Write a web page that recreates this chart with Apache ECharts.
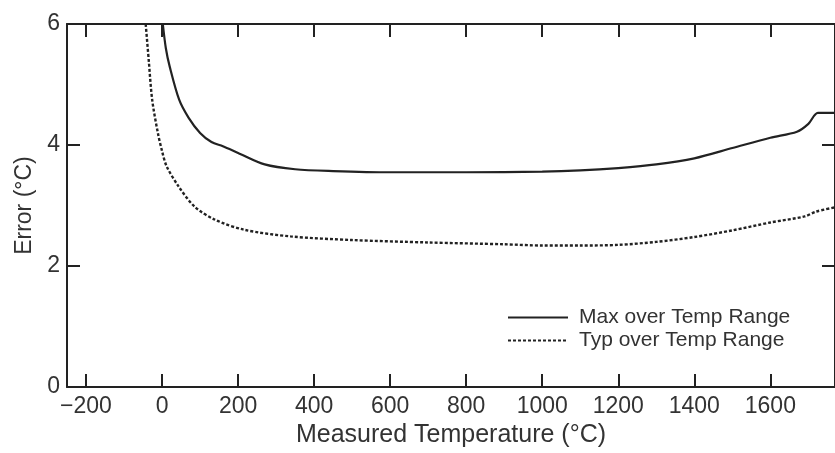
<!DOCTYPE html>
<html>
<head>
<meta charset="utf-8">
<script src="https://cdn.jsdelivr.net/npm/echarts@6/dist/echarts.min.js"></script>
<style>
    html, body {margin: 0; padding: 0; background: #fff;}
    #chart {width: 835px; height: 453px;}
</style>
</head>
<body>
<div id="chart"></div>
<script>
//误差曲线数据
const maxTemp = [2, 10, 20, 45, 70, 100, 130, 160, 200, 270, 350, 450, 600, 800, 1000, 1100, 1200, 1300, 1400, 1500, 1600, 1670, 1700, 1725, 1770];
const maxErr = [6.0, 5.6, 5.3, 4.75, 4.45, 4.2, 4.05, 3.98, 3.87, 3.68, 3.6, 3.57, 3.55, 3.55, 3.56, 3.58, 3.62, 3.68, 3.78, 3.95, 4.12, 4.22, 4.35, 4.53, 4.53];
const typTemp = [-43, -35, -26, -11, 0, 12, 43, 86, 138, 216, 338, 500, 700, 900, 1000, 1100, 1200, 1300, 1400, 1500, 1600, 1690, 1720, 1770];
const typErr = [6.0, 5.4, 4.75, 4.2, 3.9, 3.65, 3.32, 2.98, 2.77, 2.6, 2.49, 2.43, 2.39, 2.36, 2.34, 2.34, 2.35, 2.4, 2.48, 2.59, 2.72, 2.82, 2.9, 2.97];
const xTicks = [-200, 0, 200, 400, 600, 800, 1000, 1200, 1400, 1600];
const yTicks = [0, 2, 4, 6];
const legendName = ['Max over Temp Range', 'Typ over Temp Range'];

const font = "'Liberation Sans', Arial, sans-serif";
const ink = '#222';

const toPairs = (xs, ys) => xs.map((x, i) => [x, ys[i]]);

//坐标轴公共样式，刻度朝内
const axisLine = {show: true, onZero: false, lineStyle: {color: ink, width: 2}};
const axisTick = {show: true, inside: true, length: 13, lineStyle: {color: ink, width: 2}};

let chart = echarts.init(document.getElementById('chart'), null, {renderer: 'canvas'});
chart.setOption({
    animation: false,
    backgroundColor: '#fff',
    textStyle: {fontFamily: font},
    grid: {left: 67, top: 24, right: -8, bottom: 65},
    legend: {
        orient: 'vertical',
        left: 502,
        top: 302,
        itemWidth: 60,
        itemHeight: 14,
        itemGap: 2,
        data: legendName,
        itemStyle: {opacity: 0},
        textStyle: {fontFamily: font, fontSize: 21, color: '#333', padding: [0, 0, 0, 6]}
    },
    xAxis: [{
        type: 'value',
        min: -250,
        max: 1770,
        name: 'Measured Temperature (°C)',
        nameLocation: 'middle',
        nameGap: 31,
        nameTextStyle: {fontFamily: font, fontSize: 25, color: '#333'},
        axisLine: axisLine,
        axisTick: Object.assign({customValues: xTicks}, axisTick),
        axisLabel: {
            customValues: xTicks,
            margin: 8,
            fontSize: 23,
            color: '#333',
            fontFamily: font,
            formatter: v => String(v).replace('-', '\u2212')
        },
        splitLine: {show: false}
    }, {
        type: 'value',
        position: 'top',
        min: -250,
        max: 1770,
        axisLine: axisLine,
        axisTick: Object.assign({customValues: xTicks}, axisTick),
        axisLabel: {show: false},
        splitLine: {show: false}
    }],
    yAxis: [{
        type: 'value',
        min: 0,
        max: 6,
        interval: 2,
        name: 'Error (°C)',
        nameLocation: 'middle',
        nameGap: 26,
        nameTextStyle: {fontFamily: font, fontSize: 23, color: '#333'},
        axisLine: axisLine,
        axisTick: axisTick,
        axisLabel: {margin: 7, fontSize: 23, color: '#333', fontFamily: font, customValues: yTicks},
        splitLine: {show: false}
    }, {
        type: 'value',
        position: 'right',
        min: 0,
        max: 6,
        interval: 2,
        axisLine: axisLine,
        axisTick: axisTick,
        axisLabel: {show: false},
        splitLine: {show: false}
    }],
    series: [{
        type: 'line',
        name: legendName[0],
        data: toPairs(maxTemp, maxErr),
        smooth: 0.3,
        symbol: 'none',
        color: ink,
        lineStyle: {color: ink, width: 2.2}
    }, {
        type: 'line',
        name: legendName[1],
        data: toPairs(typTemp, typErr),
        smooth: 0.3,
        symbol: 'none',
        color: ink,
        lineStyle: {color: ink, width: 2.4, type: [3, 2]}
    }]
});
</script>
</body>
</html>
